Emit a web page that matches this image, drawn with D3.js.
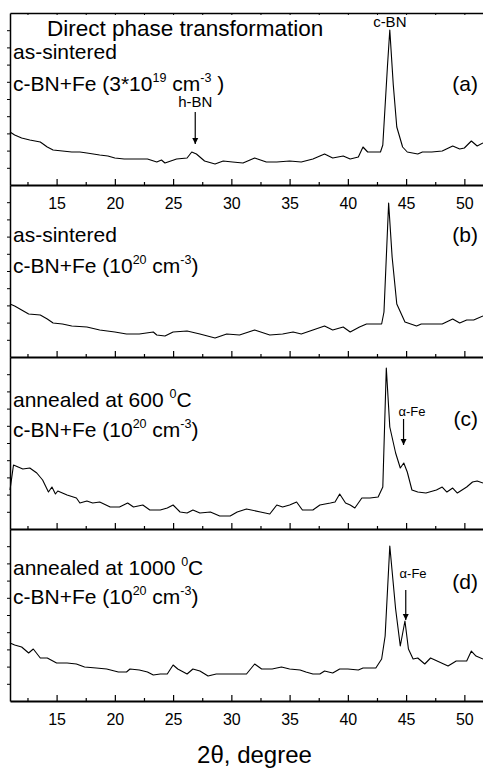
<!DOCTYPE html>
<html>
<head>
<meta charset="utf-8">
<script src="https://cdn.jsdelivr.net/npm/d3@7"></script>
<style>
body { margin: 0; background: #fff; }
svg { display: block; font-family: "Liberation Sans", Arial, Helvetica, sans-serif; }
</style>
</head>
<body>
<script>
// 2theta (degree) and intensity (a.u.)
var angA = [11.0,11.4,12.0,12.7,13.6,14.2,14.7,15.5,16.3,17.0,17.6,18.7,19.4,20.0,20.8,21.6,22.8,23.6,24.0,24.3,24.8,25.3,26.2,26.6,27.0,27.7,28.6,29.3,30.1,31.0,32.0,33.0,33.9,35.0,36.0,37.0,38.0,38.7,39.6,40.2,40.9,41.3,41.7,42.8,43.0,43.4,43.6,43.9,44.2,44.7,45.1,46.0,46.4,47.2,48.1,49.0,49.6,50.0,50.6,51.1,51.6];
var intA = [53,50,47,45,43,38,35,34,33,33,32,30,29,27,26,26,26,23,25,22,24,26,27,33,31,24,21,24,23,22,27,23,23,24,23,26,31,27,29,26,28,38,33,33,40,119,155,100,58,38,33,31,33,33,34,39,36,37,44,39,42];

var angB = [11.0,11.4,12.0,12.6,13.6,14.2,14.7,15.5,16.3,17.6,18.7,20.0,21.0,22.1,23.3,23.6,24.3,25.0,26.2,27.3,28.6,29.6,30.7,32.0,33.3,34.4,35.3,36.0,37.0,38.0,38.7,39.6,40.2,41.0,41.6,42.9,43.1,43.5,43.8,44.2,44.9,45.9,46.3,47.2,48.1,49.0,49.6,50.2,50.8,51.6];
var intB = [53,51,47,43,42,38,34,33,31,30,27,25,23,23,25,22,21,25,26,23,19,23,22,27,22,23,25,23,27,31,27,30,25,30,33,33,45,154,100,53,35,31,33,33,33,38,34,37,37,41];

var angC = [11.0,11.3,11.7,12.1,12.7,13.3,13.8,14.3,14.6,14.9,15.1,15.9,16.7,17.0,17.6,18.1,18.7,19.6,20.4,21.1,21.6,22.4,23.0,23.9,24.5,25.0,25.6,26.2,26.7,27.3,28.2,29.0,29.9,30.5,31.3,32.5,33.3,33.9,34.4,35.0,35.6,36.1,37.0,37.6,38.5,38.9,39.3,39.8,40.2,40.6,41.2,41.9,42.6,43.0,43.3,43.6,44.1,44.5,44.8,45.1,45.5,46.0,46.7,47.6,48.1,48.5,49.0,49.4,50.2,50.7,51.1,51.6];
var intC = [39,64,62,60,61,56,49,37,42,35,38,34,31,26,28,26,27,22,22,26,22,24,19,19,21,24,17,16,19,16,17,13,13,17,20,17,15,24,22,24,27,19,19,24,26,27,35,26,24,21,31,31,32,42,161,102,76,61,66,57,39,37,36,39,42,37,41,36,42,47,48,46];

var angD = [11.0,11.4,12.0,12.6,13.0,13.6,14.2,15.0,15.9,16.7,17.4,18.4,19.3,20.3,21.0,21.3,22.1,22.8,23.3,23.9,24.5,25.0,25.4,26.2,26.7,27.3,28.0,28.7,29.6,30.5,31.3,32.0,32.6,33.5,34.3,35.0,35.9,36.4,37.0,37.6,38.0,38.7,39.3,40.0,40.9,41.3,42.4,42.9,43.2,43.6,44.1,44.5,44.9,45.2,45.6,46.0,46.6,47.1,48.6,49.3,50.2,50.6,51.0,51.6];
var intD = [58,56,54,48,52,43,43,38,38,37,34,33,32,29,29,32,31,29,26,27,27,36,32,27,32,30,25,27,27,27,27,37,32,32,34,32,31,29,27,27,30,28,32,32,31,33,33,42,65,155,92,55,80,52,42,43,37,43,35,40,40,50,45,42];

var majorTicks = [15,20,25,30,35,40,45,50];
var minorTicks = [12.5,17.5,22.5,27.5,32.5,37.5,42.5,47.5,52.5];
var panelTags = ["(a)","(b)","(c)","(d)"];
// each line is a list of [text, isSuperscript]
var panelText = [
  [[["as-sintered"]], [["c-BN+Fe (3*10"],["19",1],[" cm"],["-3",1],[" )"]]],
  [[["as-sintered"]], [["c-BN+Fe (10"],["20",1],[" cm"],["-3",1],[")"]]],
  [[["annealed at 600 "],["0",1],["C"]], [["c-BN+Fe (10"],["20",1],[" cm"],["-3",1],[")"]]],
  [[["annealed at 1000 "],["0",1],["C"]], [["c-BN+Fe (10"],["20",1],[" cm"],["-3",1],[")"]]]
];
// arrows: panel, 2theta, start and end intensity; labels: panel, 2theta, intensity, text
var arrowPanel = [0, 2, 3];
var arrowAngle = [26.9, 44.78, 44.97];
var arrowFrom = [73, 110, 111];
var arrowTo = [41, 84, 81];
var peakLabels = [
  [0, 26.9, 78, "h-BN"],
  [0, 43.6, 158, "c-BN"],
  [2, 45.5, 113, "\u03b1-Fe"],
  [3, 45.6, 123, "\u03b1-Fe"]
];

var scans = [[angA,intA],[angB,intB],[angC,intC],[angD,intD]];

var width = 483, height = 771;
var left = 10, top0 = 13, ph = 172;
// baselines of the two description rows and of the tag, from each panel top
var rowY = [[46, 78], [57, 88], [50, 80], [46, 75]];
var tagY = [78, 57, 69, 60];

var svg = d3.select("body").append("svg")
  .attr("width", width)
  .attr("height", height);

svg.append("defs").append("marker")
  .attr("id", "head")
  .attr("viewBox", "0 0 10 10")
  .attr("refX", 10).attr("refY", 5)
  .attr("markerWidth", 6).attr("markerHeight", 7)
  .attr("markerUnits", "userSpaceOnUse")
  .attr("orient", "auto")
  .append("path").attr("d", "M0,0L10,5L0,10Z").attr("fill", "#000");

var x = d3.scaleLinear().domain([11, 51.6]).range([left, width]);

var yScales = scans.map(function(s, i) {
  var t = top0 + i * ph;
  return d3.scaleLinear().domain([0, ph]).range([t + ph, t]);
});

var line = d3.line();

scans.forEach(function(s, i) {
  var y = yScales[i];
  var t = top0 + i * ph;
  var g = svg.append("g");

  g.append("path")
    .datum(d3.range(s[0].length))
    .attr("fill", "none")
    .attr("stroke", "#000")
    .attr("stroke-width", 1.1)
    .attr("stroke-linejoin", "round")
    .attr("d", line.x(function(j) { return x(s[0][j]); }).y(function(j) { return y(s[1][j]); }));

  // minor x ticks
  g.append("g")
    .attr("transform", "translate(0," + (t + ph) + ")")
    .call(d3.axisBottom(x).tickValues(minorTicks).tickSize(-3).tickFormat(""))
    .call(function(a) { a.select(".domain").remove(); })
    .selectAll("line").attr("stroke-width", 1.2);

  var showLabels = (i === 0 || i === 3);
  var ax = g.append("g")
    .attr("transform", "translate(0," + (t + ph) + ")")
    .call(d3.axisBottom(x).tickValues(majorTicks).tickSize(-6).tickSizeOuter(0).tickPadding(13)
      .tickFormat(showLabels ? d3.format("d") : ""));
  ax.select(".domain").attr("stroke-width", 1.8);
  ax.selectAll("line").attr("stroke-width", 1.2);
  ax.selectAll("text").attr("font-size", 16).attr("font-family", null).attr("fill", "#000");

  // left frame with small outward ticks
  var ay = g.append("g")
    .attr("transform", "translate(" + left + ",0)")
    .call(d3.axisLeft(y).tickValues(d3.range(1, 10).map(function(k) { return k * ph / 10; }))
      .tickSize(3).tickSizeOuter(0).tickFormat(""));
  ay.select(".domain").attr("stroke-width", 1.5);

  if (i === 0) {
    var ax0 = g.append("g")
      .attr("transform", "translate(0," + t + ")")
      .call(d3.axisTop(x).tickValues(majorTicks.concat(minorTicks)).tickSize(-2).tickSizeOuter(0).tickFormat(""));
    ax0.select(".domain").attr("stroke-width", 1.5);
  }

  // sample descriptions
  panelText[i].forEach(function(row, r) {
    var txt = g.append("text").attr("x", 13).attr("y", t + rowY[i][r]).attr("font-size", 21);
    var up = false;
    row.forEach(function(seg) {
      var ts = txt.append("tspan").text(seg[0]);
      if (seg[1]) {
        ts.attr("font-size", 12.5).attr("dy", up ? 0 : -9);
        up = true;
      } else {
        ts.attr("dy", up ? 9 : 0);
        up = false;
      }
    });
  });

  g.append("text")
    .attr("x", 478).attr("y", t + tagY[i])
    .attr("text-anchor", "end")
    .attr("font-size", 21)
    .text(panelTags[i]);
});

svg.append("text")
  .attr("x", 47).attr("y", 36)
  .attr("font-size", 22.5)
  .text("Direct phase transformation");

arrowAngle.forEach(function(a, k) {
  var y = yScales[arrowPanel[k]];
  svg.append("line")
    .attr("x1", x(a)).attr("x2", x(a))
    .attr("y1", y(arrowFrom[k])).attr("y2", y(arrowTo[k]))
    .attr("stroke", "#000").attr("stroke-width", 1.2)
    .attr("marker-end", "url(#head)");
});

peakLabels.forEach(function(p) {
  svg.append("text")
    .attr("x", x(p[1])).attr("y", yScales[p[0]](p[2]))
    .attr("text-anchor", "middle")
    .attr("font-size", p[3] === "\u03b1-Fe" ? 13 : 15)
    .text(p[3]);
});

svg.append("text")
  .attr("x", (x(11) + x(51.6)) / 2 + 8).attr("y", 763)
  .attr("text-anchor", "middle")
  .attr("font-size", 24)
  .text("2\u03b8, degree");
</script>
</body>
</html>
